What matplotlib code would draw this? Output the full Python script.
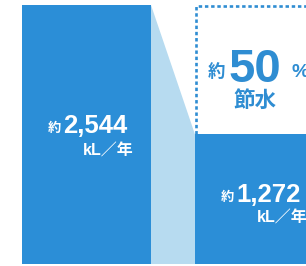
import matplotlib
matplotlib.use("Agg")
import matplotlib.pyplot as plt
from matplotlib.patches import Polygon

# ---- data ----
categories = ["現状", "節水後"]
values = [2544, 1272]
value_labels = ["2,544", "1,272"]
unit_label = "kL／年"
prefix = "約"
saving_pct = "50"
saving_text = "節水"

BAR = "#2b8ed7"
LIGHT = "#b7dbf0"
TXT_BLUE = "#2f8dd2"

W, H = 306, 266
fig = plt.figure(figsize=(W / 100, H / 100), dpi=100)
fig.patch.set_facecolor("white")
ax = fig.add_axes([0, 0, 1, 1])
ax.set_xlim(0, W)
ax.set_ylim(-19.6, 2593)
ax.axis("off")

centers = [86.5, 259.5]
width = 129
bars = ax.bar(centers, values, width=width, color=BAR, zorder=3)

# connector between bars
lb, rb = bars[0], bars[1]
x0 = lb.get_x() + lb.get_width()
x1 = rb.get_x()
poly = Polygon([(x0, values[0]), (x1, values[1]), (x1, 0), (x0, 0)],
               closed=True, facecolor=LIGHT, edgecolor="none", zorder=2)
ax.add_patch(poly)

# dotted box above the second bar
ax.plot([x1 + 0.8, x1 + 0.8, W + 20], [values[1], values[0] - 10, values[0] - 10],
        color=TXT_BLUE, lw=1.9, dashes=(1.3, 1.05), dash_capstyle="butt",
        solid_capstyle="butt", solid_joinstyle="miter", clip_on=False, zorder=4)

NUM = ["Liberation Sans", "Noto Sans CJK JP"]
CJK = ["Noto Sans CJK JP", "DejaVu Sans"]


def px(x, y):
    return x / W, 1 - y / H


# left bar labels
fig.text(*px(61, 132), prefix, color="white", fontsize=9.5, family=CJK,
         weight="bold", ha="right", va="baseline")
fig.text(*px(63, 133), value_labels[0], color="white", fontsize=18.5, family=NUM,
         weight="bold", ha="left", va="baseline")
fig.text(*px(134, 156), unit_label, color="white", fontsize=11.5, family=NUM,
         weight="bold", ha="right", va="baseline")

# right bar labels
fig.text(*px(234, 201), prefix, color="white", fontsize=9.5, family=CJK,
         weight="bold", ha="right", va="baseline")
fig.text(*px(236, 202), value_labels[1], color="white", fontsize=18.5, family=NUM,
         weight="bold", ha="left", va="baseline")
fig.text(*px(308, 223), unit_label, color="white", fontsize=11.5, family=NUM,
         weight="bold", ha="right", va="baseline")

# saving annotation
fig.text(*px(225, 77), prefix, color=TXT_BLUE, fontsize=12.5, family=CJK,
         weight="bold", ha="right", va="baseline")
fig.text(*px(228, 82), saving_pct, color=TXT_BLUE, fontsize=34, family=NUM,
         weight="bold", ha="left", va="baseline")
fig.text(*px(292, 77), "%", color=TXT_BLUE, fontsize=14, family=NUM,
         weight="bold", ha="left", va="baseline")
fig.text(*px(255, 107), saving_text, color=TXT_BLUE, fontsize=15.5, family=CJK,
         weight="bold", ha="center", va="baseline")

fig.savefig("out.png", dpi=100, facecolor="white")
